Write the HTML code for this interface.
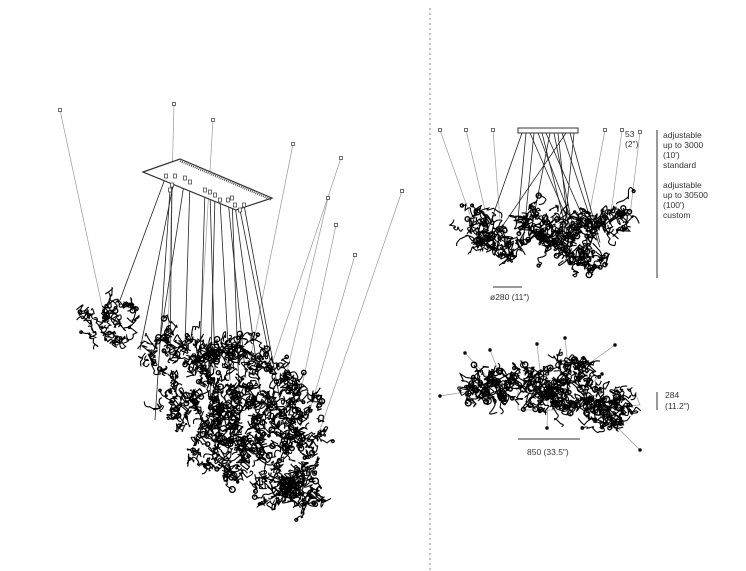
<!DOCTYPE html>
<html><head><meta charset="utf-8"><style>
html,body{margin:0;padding:0;background:#fff;width:746px;height:571px;overflow:hidden}
svg{display:block}
text{font-family:"Liberation Sans",sans-serif;font-size:8.5px;fill:#333}
</style></head><body>
<svg id="s" width="746" height="571" viewBox="0 0 746 571" xmlns="http://www.w3.org/2000/svg">
<line x1="430" y1="8" x2="430" y2="571" stroke="#888" stroke-width="1" stroke-dasharray="2,3"/>
<g id="wires" stroke="#999" stroke-width="0.7" fill="none"></g>
<g id="dark" stroke="#222" stroke-width="0.8" fill="none"></g>
<polygon points="143,172 180,159 272,198 236,210" fill="#fff" stroke="#333" stroke-width="1.2"/>
<line x1="180" y1="161" x2="272" y2="200" stroke="#555" stroke-width="2" stroke-dasharray="1,1"/>
<rect x="518" y="128" width="60" height="5" fill="#fff" stroke="#333"/>
<g id="blobs" stroke="#000" stroke-width="1.1" fill="none"></g>
<g id="pts" fill="#fff" stroke="#333" stroke-width="0.7"></g>
<line x1="657" y1="130" x2="657" y2="278" stroke="#333" stroke-width="1"/>
<text x="663" y="138">adjustable</text>
<text x="663" y="148">up to 3000</text>
<text x="663" y="158">(10')</text>
<text x="663" y="168">standard</text>
<text x="663" y="188">adjustable</text>
<text x="663" y="198">up to 30500</text>
<text x="663" y="208">(100')</text>
<text x="663" y="218">custom</text>
<text x="625" y="137">53</text>
<text x="625" y="147">(2")</text>
<line x1="493" y1="287" x2="522" y2="287" stroke="#333"/>
<text x="490" y="300">ø280 (11")</text>
<line x1="657" y1="392" x2="657" y2="410" stroke="#333"/>
<text x="665" y="398">284</text>
<text x="665" y="409">(11.2")</text>
<line x1="518" y1="439" x2="580" y2="439" stroke="#333"/>
<text x="527" y="455">850 (33.5")</text>
</svg>
<script>
var ns="http://www.w3.org/2000/svg";
var seed=7;function r(){seed=(seed*16807)%2147483647;return seed/2147483647;}
function add(g,tag,a){var e=document.createElementNS(ns,tag);for(var k in a)e.setAttribute(k,a[k]);document.getElementById(g).appendChild(e);return e;}
function blob(cx,cy,rx,ry,n){
 for(var i=0;i<n;i++){
  var a=r()*6.28,d=Math.sqrt(r());var x=cx+Math.cos(a)*rx*d,y=cy+Math.sin(a)*ry*d;
  var s="M"+x.toFixed(1)+","+y.toFixed(1);
  for(var j=0;j<4;j++){var nx=x+(r()-.5)*14,ny=y+(r()-.5)*14;s+=" Q"+(x+(r()-.5)*12).toFixed(1)+","+(y+(r()-.5)*12).toFixed(1)+" "+nx.toFixed(1)+","+ny.toFixed(1);x=nx;y=ny;}
  add("blobs","path",{d:s});
  if(r()<.3)add("blobs","circle",{cx:x.toFixed(1),cy:y.toFixed(1),r:(1+r()*2).toFixed(1),"stroke-width":"1.4"});
 }
}
// left wires from top points
var L=[[60,110,105,320],[174,104,168,340],[213,120,200,340],[293,144,250,360],[341,158,270,370],[328,198,285,380],[336,225,300,395],[355,255,310,410],[402,191,320,430]];
L.forEach(function(p){add("wires","line",{x1:p[0],y1:p[1],x2:p[2],y2:p[3]});add("pts","rect",{x:p[0]-1.5,y:p[1]-1.5,width:3,height:3});});
var C=[[166,176,120,300],[175,176,140,350],[185,178,160,340],[172,185,170,360],[190,182,185,345],[205,190,200,360],[210,192,215,370],[220,200,230,380],[228,200,245,370],[235,205,260,390],[240,210,270,360],[244,205,280,400],[232,198,240,420],[170,190,155,420],[215,195,210,400]];
C.forEach(function(p){add("dark","line",{x1:p[0],y1:p[1],x2:p[2],y2:p[3]});add("pts","rect",{x:p[0]-1.5,y:p[1]-2,width:3,height:4});});
// right top wires
[[440,130,470,215],[466,130,485,210],[493,130,500,220],[605,130,590,210],[622,130,610,220],[640,132,630,215]].forEach(function(p){add("wires","line",{x1:p[0],y1:p[1],x2:p[2],y2:p[3]});add("pts","rect",{x:p[0]-1.5,y:p[1]-1.5,width:3,height:3});});
for(var i=0;i<14;i++){add("dark","line",{x1:522+i*4,y1:133,x2:480+r()*130,y2:215+r()*40});}
// right bottom wires with dots
[[465,353,490,380],[490,350,500,375],[537,344,540,370],[565,338,568,365],[615,345,580,370],[602,374,590,385],[440,396,465,392],[547,428,548,400],[640,450,605,415]].forEach(function(p){add("wires","line",{x1:p[0],y1:p[1],x2:p[2],y2:p[3]});add("pts","circle",{cx:p[0],cy:p[1],r:1.5,fill:"#000"});});
add("wires","polyline",{points:"518,390 518,410 560,410 640,405 635,392"});
// blobs
blob(110,322,25,25,40);
blob(180,355,35,25,60);blob(230,360,35,25,60);blob(270,385,30,25,50);
blob(195,405,35,25,60);blob(250,415,40,30,80);blob(300,420,25,30,45);
blob(225,450,35,25,60);blob(280,465,40,30,70);blob(295,495,30,20,50);
blob(480,228,18,18,35);blob(540,222,22,18,40);blob(580,228,20,18,35);blob(615,218,14,14,25);blob(505,245,14,14,25);blob(585,258,18,15,30);blob(555,240,15,12,25);
blob(480,390,15,12,30);blob(505,385,18,12,35);blob(535,385,16,14,35);blob(572,372,16,14,35);blob(555,400,16,12,30);blob(590,395,16,14,30);blob(600,415,14,12,25);blob(620,405,12,12,22);
</script>
</body></html>
